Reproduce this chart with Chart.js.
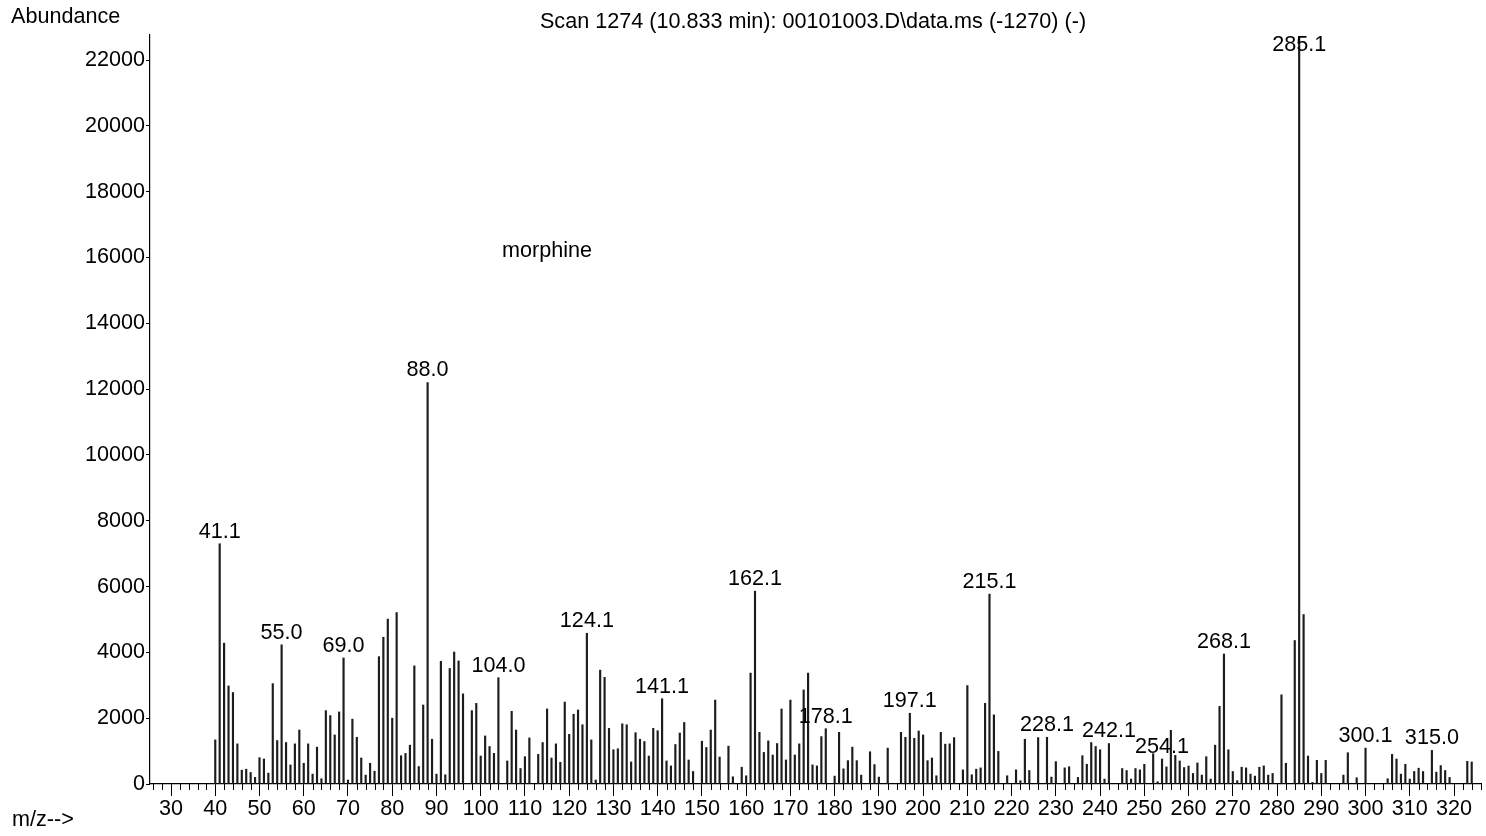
<!DOCTYPE html>
<html>
<head>
<meta charset="utf-8">
<script src="https://cdn.jsdelivr.net/npm/chart.js@4.4.1/dist/chart.umd.min.js"></script>
<style>
  html, body { margin: 0; padding: 0; background: #fff; }
  #wrap { position: relative; width: 1486px; height: 836px; }
</style>
</head>
<body>
<div id="wrap"><canvas id="spectrum"></canvas></div>
<script>
// m/z of every peak and its abundance
const massCharge = [
  40, 41, 42, 43, 44, 45, 46, 47, 48, 49,
  50, 51, 52, 53, 54, 55, 56, 57, 58, 59,
  60, 61, 62, 63, 64, 65, 66, 67, 68, 69,
  70, 71, 72, 73, 74, 75, 76, 77, 78, 79,
  80, 81, 82, 83, 84, 85, 86, 87, 88, 89,
  90, 91, 92, 93, 94, 95, 96, 98, 99, 100,
  101, 102, 103, 104, 106, 107, 108, 109, 110, 111,
  113, 114, 115, 116, 117, 118, 119, 120, 121, 122,
  123, 124, 125, 126, 127, 128, 129, 130, 131, 132,
  133, 134, 135, 136, 137, 138, 139, 140, 141, 142,
  143, 144, 145, 146, 147, 148, 150, 151, 152, 153,
  154, 156, 157, 159, 160, 161, 162, 163, 164, 165,
  166, 167, 168, 169, 170, 171, 172, 173, 174, 175,
  176, 177, 178, 180, 181, 182, 183, 184, 185, 186,
  188, 189, 190, 192, 195, 196, 197, 198, 199, 200,
  201, 202, 203, 204, 205, 206, 207, 209, 210, 211,
  212, 213, 214, 215, 216, 217, 219, 221, 222, 223,
  224, 226, 228, 229, 230, 232, 233, 235, 236, 237,
  238, 239, 240, 241, 242, 245, 246, 247, 248, 249,
  250, 252, 253, 254, 255, 256, 257, 258, 259, 260,
  261, 262, 263, 264, 265, 266, 267, 268, 269, 270,
  271, 272, 273, 274, 275, 276, 277, 278, 279, 281,
  282, 284, 285, 286, 287, 288, 289, 290, 291, 295,
  296, 298, 300, 305, 306, 307, 308, 309, 310, 311,
  312, 313, 315, 316, 317, 318, 319, 323, 324
];
const abundance = [
  1340, 7300, 4280, 2980, 2780, 1220, 420, 450, 350, 200,
  800, 760, 330, 3050, 1320, 4230, 1260, 580, 1220, 1640,
  630, 1220, 300, 1120, 160, 2230, 2080, 1490, 2190, 3830,
  120, 1970, 1420, 790, 270, 630, 390, 3870, 4460, 5010,
  2000, 5210, 860, 930, 1180, 3590, 530, 2400, 12200, 1360,
  300, 3730, 280, 3510, 4010, 3740, 2740, 2230, 2450, 850,
  1460, 1140, 930, 3230, 700, 2210, 1640, 470, 830, 1400,
  900, 1260, 2280, 790, 1220, 660, 2490, 1510, 2120, 2250,
  1800, 4580, 1340, 120, 3460, 3240, 1690, 1040, 1070, 1830,
  1800, 670, 1560, 1360, 1290, 850, 1690, 1620, 2590, 700,
  550, 1200, 1550, 1870, 730, 380, 1300, 1110, 1640, 2550,
  820, 1150, 220, 510, 250, 3370, 5860, 1570, 960, 1310,
  880, 1230, 2280, 730, 2550, 880, 1220, 2860, 3370, 580,
  550, 1440, 1680, 240, 1570, 460, 710, 1120, 710, 270,
  980, 590, 210, 1090, 1570, 1420, 2150, 1390, 1610, 1490,
  710, 790, 250, 1570, 1210, 1220, 1410, 430, 2990, 280,
  450, 490, 2450, 5770, 2100, 990, 250, 430, 100, 1360,
  410, 1410, 1420, 210, 680, 490, 525, 200, 860, 600,
  1260, 1140, 1040, 150, 1230, 470, 410, 150, 470, 430,
  600, 920, 70, 760, 520, 1630, 870, 700, 500, 545,
  320, 640, 270, 830, 150, 1180, 2360, 3950, 1040, 380,
  100, 510, 490, 300, 240, 510, 550, 270, 320, 2710,
  630, 4360, 22700, 5150, 850, 50, 720, 320, 720, 270,
  950, 190, 1090, 160, 900, 760, 300, 600, 150, 380,
  480, 380, 1020, 360, 560, 410, 200, 690, 670
];

// annotated peaks
const peakLabelMz = [41, 55, 69, 88, 104, 124, 141, 162, 178, 197, 215, 228, 242, 254, 268, 285, 300, 315];
const peakLabelText = ['41.1', '55.0', '69.0', '88.0', '104.0', '124.1', '141.1', '162.1', '178.1',
  '197.1', '215.1', '228.1', '242.1', '254.1', '268.1', '285.1', '300.1', '315.0'];

// axis ticks
const xTickValues = [30, 40, 50, 60, 70, 80, 90, 100, 110, 120, 130, 140, 150, 160, 170, 180, 190,
  200, 210, 220, 230, 240, 250, 260, 270, 280, 290, 300, 310, 320];
const yTickValues = [0, 2000, 4000, 6000, 8000, 10000, 12000, 14000, 16000, 18000, 20000, 22000];

const titleText = 'Scan 1274 (10.833 min): 00101003.D\\data.ms (-1270) (-)';
const compoundName = 'morphine';

const FONT = '21.6px "Liberation Sans", Arial, sans-serif';
Chart.defaults.font.family = '"Liberation Sans", Arial, sans-serif';
Chart.defaults.font.size = 21.6;
Chart.defaults.color = '#000';

const spectrumText = {
  id: 'spectrumText',
  afterDatasetsDraw(chart) {
    const { ctx, scales: { x, y }, chartArea } = chart;
    ctx.save();
    ctx.fillStyle = '#000';
    ctx.strokeStyle = '#000';
    ctx.font = FONT;

    // peak labels
    ctx.textAlign = 'center';
    ctx.textBaseline = 'middle';
    peakLabelMz.forEach((mz, i) => {
      const idx = massCharge.indexOf(mz);
      const px = x.getPixelForValue(mz);
      const py = Math.max(y.getPixelForValue(abundance[idx]) - 12, 45);
      ctx.fillText(peakLabelText[i], px, py);
    });

    // compound name
    ctx.fillText(compoundName, x.getPixelForValue(115), y.getPixelForValue(16200));

    // minor x ticks, every 2
    ctx.lineWidth = 1;
    ctx.beginPath();
    for (let v = 26; v <= 326; v += 2) {
      if (v % 10 === 0) continue;
      const px = Math.round(x.getPixelForValue(v)) + 0.5;
      ctx.moveTo(px, chartArea.bottom);
      ctx.lineTo(px, chartArea.bottom + 6);
    }
    ctx.stroke();

    // headings
    ctx.textAlign = 'left';
    ctx.fillText('Abundance', 11, 17);
    ctx.fillText('m/z-->', 12, 820);
    ctx.textAlign = 'center';
    ctx.fillText(titleText, 813, 22);
    ctx.restore();
  }
};

new Chart(document.getElementById('spectrum'), {
  type: 'bar',
  data: {
    datasets: [{
      data: massCharge.map((mz, i) => ({ x: mz, y: abundance[i] })),
      backgroundColor: '#1c1c1c',
      barThickness: 1.5
    }]
  },
  options: {
    responsive: true,
    maintainAspectRatio: false,
    animation: false,
    layout: { padding: { left: 0, top: 35, right: 5, bottom: 0 } },
    plugins: { legend: { display: false }, tooltip: { enabled: false } },
    scales: {
      x: {
        type: 'linear',
        min: 25.25,
        max: 326.1,
        offset: false,
        afterFit(scale) { scale.height = 52; },
        afterBuildTicks(scale) { scale.ticks = xTickValues.map(v => ({ value: v })); },
        grid: { drawOnChartArea: false, offset: false, color: '#000', tickLength: 12, lineWidth: 1 },
        border: { display: true, color: '#000', width: 1.2 },
        ticks: { maxRotation: 0, autoSkip: false, padding: 0, callback: v => String(v) }
      },
      y: {
        min: 0,
        max: 22760,
        afterFit(scale) { scale.width = 150; },
        afterBuildTicks(scale) { scale.ticks = yTickValues.map(v => ({ value: v })); },
        grid: { drawOnChartArea: false, color: '#000', tickLength: 4, lineWidth: 1 },
        border: { display: true, color: '#000', width: 1.2 },
        ticks: { padding: 1, callback: v => String(v) }
      }
    }
  },
  plugins: [spectrumText]
});
</script>
</body>
</html>
